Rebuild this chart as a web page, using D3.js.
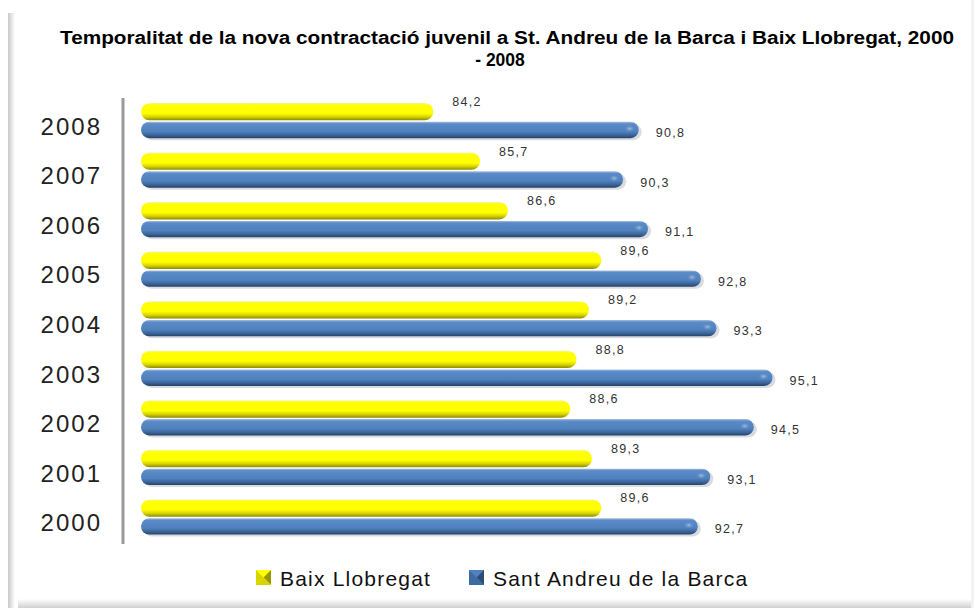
<!DOCTYPE html>
<html>
<head>
    <title>Temporalitat contractació juvenil</title>
    <script src="https://d3js.org/d3.v7.min.js"></script>
    <style>
        body { margin: 0; background: #fff; }
        svg { display: block; }
    </style>
</head>
<body>
    <div id="chart"></div>

    <script>
        const years = ["2008", "2007", "2006", "2005", "2004", "2003", "2002", "2001", "2000"];
        const baixLlobregat = [84.2, 85.7, 86.6, 89.6, 89.2, 88.8, 88.6, 89.3, 89.6];
        const santAndreu = [90.8, 90.3, 91.1, 92.8, 93.3, 95.1, 94.5, 93.1, 92.7];
        const seriesNames = ["Baix Llobregat", "Sant Andreu de la Barca"];
        const xDomain = [75, 100];

        const width = 974, height = 608;

        const svg = d3.select("#chart").append("svg")
            .attr("width", width)
            .attr("height", height);

        const defs = svg.append("defs");

        function vGrad(id, stops) {
            const g = defs.append("linearGradient").attr("id", id)
                .attr("x1", 0).attr("y1", 0).attr("x2", 0).attr("y2", 1);
            stops.forEach(s => g.append("stop").attr("offset", s[0]).attr("stop-color", s[1]));
        }
        vGrad("gYellow", [[0, "#f4f4a8"], [0.12, "#ffff00"], [0.6, "#ffff00"], [0.8, "#d8d400"], [1, "#8c8a00"]]);
        vGrad("gBlue", [[0, "#a8c0dc"], [0.12, "#5b8bc8"], [0.6, "#4f81bd"], [0.82, "#3a6498"], [1, "#24426a"]]);

        const hl = defs.append("radialGradient").attr("id", "gHl");
        hl.append("stop").attr("offset", 0).attr("stop-color", "#a9c4e6").attr("stop-opacity", 0.9);
        hl.append("stop").attr("offset", 1).attr("stop-color", "#4f81bd").attr("stop-opacity", 0);

        const lg = defs.append("linearGradient").attr("id", "gLeft")
            .attr("x1", 0).attr("y1", 0).attr("x2", 1).attr("y2", 0);
        lg.append("stop").attr("offset", 0).attr("stop-color", "#c8c8c8");
        lg.append("stop").attr("offset", 1).attr("stop-color", "#ffffff");
        const bg = defs.append("linearGradient").attr("id", "gBottom")
            .attr("x1", 0).attr("y1", 0).attr("x2", 0).attr("y2", 1);
        bg.append("stop").attr("offset", 0).attr("stop-color", "#ffffff");
        bg.append("stop").attr("offset", 1).attr("stop-color", "#d0d0d0");

        // frame shadows
        svg.append("rect").attr("x", 8).attr("y", 13).attr("width", 7).attr("height", height - 13)
            .attr("fill", "url(#gLeft)");
        svg.append("rect").attr("x", 18).attr("y", 599).attr("width", width - 18).attr("height", 9)
            .attr("fill", "url(#gBottom)");
        svg.append("rect").attr("x", 971).attr("y", 0).attr("width", 3).attr("height", height)
            .attr("fill", "#f2f2f2");

        // title
        const title = svg.append("text")
            .attr("text-anchor", "middle")
            .attr("font-family", "'Liberation Sans Narrow', 'Liberation Sans', sans-serif")
            .attr("font-weight", "bold")
            .attr("font-size", 17.5)
            .attr("fill", "#000");
        title.append("tspan").attr("x", 507).attr("y", 44)
            .attr("textLength", 894).attr("lengthAdjust", "spacingAndGlyphs")
            .text("Temporalitat de la nova contractació juvenil a St. Andreu de la Barca i Baix Llobregat, 2000");
        title.append("tspan").attr("x", 500).attr("y", 66)
            .text("- 2008");

        const x = d3.scaleLinear().domain(xDomain).range([147, 925]);
        const y = d3.scaleBand().domain(years).range([98, 544]);
        const bw = y.bandwidth();

        // axis line
        svg.append("line")
            .attr("x1", 123).attr("x2", 123)
            .attr("y1", y.range()[0]).attr("y2", y.range()[1])
            .attr("stroke", "#9a9a9a").attr("stroke-width", 3);

        // year labels
        svg.append("g").selectAll("text")
            .data(years)
            .join("text")
            .attr("x", 102)
            .attr("y", d => y(d) + bw / 2 + 12)
            .attr("text-anchor", "end")
            .attr("font-family", "'Liberation Sans', sans-serif")
            .attr("font-size", 24)
            .attr("letter-spacing", 2)
            .attr("fill", "#222")
            .text(d => d);

        const yH = bw * 0.35, bH = bw * 0.33;
        const yOff = bw * 0.1, bOff = bw * 0.48;
        const cap = 6;

        // Baix Llobregat bars
        const gY = svg.append("g");
        gY.selectAll("rect")
            .data(baixLlobregat)
            .join("rect")
            .attr("x", x(xDomain[0]) - cap)
            .attr("y", (d, i) => y(years[i]) + yOff)
            .attr("width", d => x(d) - x(xDomain[0]) + cap)
            .attr("height", yH)
            .attr("rx", yH / 2).attr("ry", yH / 2)
            .attr("fill", "url(#gYellow)");

        // Sant Andreu bars
        const gB = svg.append("g");
        gB.selectAll("rect.shadow")
            .data(santAndreu)
            .join("rect")
            .attr("class", "shadow")
            .attr("x", x(xDomain[0]) - cap + 3)
            .attr("y", (d, i) => y(years[i]) + bOff + 2)
            .attr("width", d => x(d) - x(xDomain[0]) + cap)
            .attr("height", bH)
            .attr("rx", bH / 2).attr("ry", bH / 2)
            .attr("fill", "#c9ccd2").attr("opacity", 0.7);
        gB.selectAll("rect.bar")
            .data(santAndreu)
            .join("rect")
            .attr("class", "bar")
            .attr("x", x(xDomain[0]) - cap)
            .attr("y", (d, i) => y(years[i]) + bOff)
            .attr("width", d => x(d) - x(xDomain[0]) + cap)
            .attr("height", bH)
            .attr("rx", bH / 2).attr("ry", bH / 2)
            .attr("fill", "url(#gBlue)");
        gB.selectAll("ellipse")
            .data(santAndreu)
            .join("ellipse")
            .attr("cx", d => x(d) - 9)
            .attr("cy", (d, i) => y(years[i]) + bOff + bH * 0.42)
            .attr("rx", 6).attr("ry", 4)
            .attr("fill", "url(#gHl)");

        const fmt = v => v.toFixed(1).replace(".", ",");

        // value labels
        svg.append("g").selectAll("text")
            .data(baixLlobregat)
            .join("text")
            .attr("x", d => x(d) + 19)
            .attr("y", (d, i) => y(years[i]) + yOff + 3)
            .attr("font-family", "'Liberation Sans', sans-serif")
            .attr("font-size", 12.5)
            .attr("letter-spacing", 1.3)
            .attr("fill", "#333")
            .text(fmt);
        svg.append("g").selectAll("text")
            .data(santAndreu)
            .join("text")
            .attr("x", d => x(d) + 17)
            .attr("y", (d, i) => y(years[i]) + bOff + bH / 2 + 7)
            .attr("font-family", "'Liberation Sans', sans-serif")
            .attr("font-size", 12.5)
            .attr("letter-spacing", 1.3)
            .attr("fill", "#333")
            .text(fmt);

        // legend
        const legend = svg.append("g");
        const legendItems = [
            { name: seriesNames[0], x: 256, fill: "#ffff00", dark: "#9a9600", mid: "#d8d400" },
            { name: seriesNames[1], x: 469, fill: "#4f81bd", dark: "#2c4d78", mid: "#3d6aa0" }
        ];
        legendItems.forEach(it => {
            const g = legend.append("g").attr("transform", `translate(${it.x},570)`);
            const s = 15;
            g.append("rect").attr("width", s).attr("height", s).attr("fill", it.fill);
            g.append("polygon").attr("points", `0,0 ${s / 2},${s / 2} 0,${s}`).attr("fill", it.mid);
            g.append("polygon").attr("points", `${s},0 ${s / 2},${s / 2} ${s},${s}`).attr("fill", it.dark);
            g.append("polygon").attr("points", `0,${s} ${s / 2},${s / 2} ${s},${s}`).attr("fill", it.mid);
            g.append("text")
                .attr("x", s + 9).attr("y", 15.5)
                .attr("font-family", "'Liberation Sans', sans-serif")
                .attr("font-size", 21)
                .attr("letter-spacing", 1.2)
                .attr("fill", "#111")
                .text(it.name);
        });
    </script>
</body>
</html>
